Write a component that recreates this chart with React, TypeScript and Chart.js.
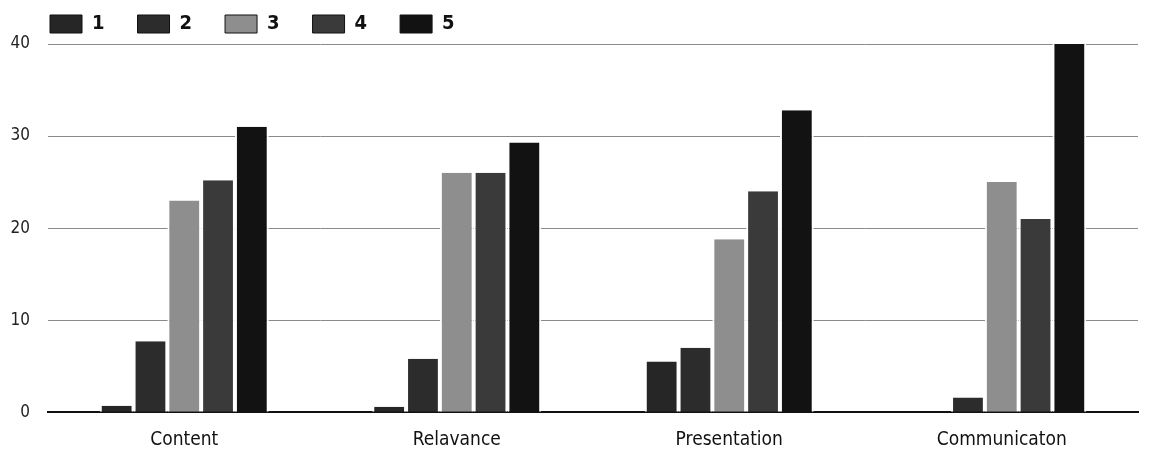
import React, { useEffect, useRef } from "react";
import { Chart, registerables } from "chart.js";

Chart.register(...registerables);

const categories = ["Content", "Relavance", "Presentation", "Communicaton"];
const seriesNames = ["1", "2", "3", "4", "5"];
const series1 = [0.7, 0.6, 5.5, 0];
const series2 = [7.7, 5.8, 7, 1.6];
const series3 = [23, 26, 18.8, 25];
const series4 = [25.2, 26, 24, 21];
const series5 = [31, 29.3, 32.8, 40];
const yTicks = [0, 10, 20, 30, 40];

const colors = ["#262626", "#2c2c2c", "#8e8e8e", "#3a3a3a", "#121212"];
const FONT = "'Liberation Sans Narrow', 'DejaVu Sans Condensed', 'Roboto', sans-serif";

const legendShift = {
  id: "legendShift",
  afterLayout(chart: any) {
    if (chart.legend) {
      chart.legend.left += 9;
      chart.legend.right += 9;
    }
  },
};

export default function App() {
  const ref = useRef<HTMLCanvasElement | null>(null);
  useEffect(() => {
    if (!ref.current) return;
    const all = [series1, series2, series3, series4, series5];
    const chart = new Chart(ref.current, {
      type: "bar",
      data: {
        labels: categories,
        datasets: all.map((d, i) => ({
          label: seriesNames[i],
          data: d,
          backgroundColor: colors[i],
          borderColor: "#ffffff",
          borderWidth: { left: 2, right: 2, top: 0, bottom: 0 },
          barPercentage: 1,
          categoryPercentage: 0.62,
        })),
      },
      plugins: [legendShift],
      options: {
        animation: false,
        responsive: true,
        maintainAspectRatio: false,
        layout: { padding: { left: 0, right: 6, top: -27, bottom: 4 } },
        plugins: {
          tooltip: { enabled: false },
          legend: {
            position: "top",
            align: "start",
            labels: {
              boxWidth: 32,
              boxHeight: 18,
              padding: 33,
              color: "#111",
              font: { family: FONT, size: 20, weight: "bold" },
              generateLabels: (c: any) =>
                c.data.datasets.map((ds: any, i: number) => ({
                  text: ds.label,
                  fillStyle: colors[i],
                  strokeStyle: "#111",
                  lineWidth: 1,
                  hidden: false,
                  datasetIndex: i,
                  fontColor: "#111",
                })),
            },
          },
        },
        scales: {
          x: {
            grid: { display: false },
            border: { display: true, color: "#111", width: 2 },
            ticks: {
              color: "#111",
              padding: 8,
              font: { family: FONT, size: 19 },
            },
          },
          y: {
            min: 0,
            max: 40,
            afterBuildTicks: (s: any) => {
              s.ticks = yTicks.map((v) => ({ value: v }));
            },
            afterFit: (s: any) => {
              s.width = 40;
            },
            grid: { color: "#8a8a8a", lineWidth: 1, drawTicks: false },
            border: { display: false },
            ticks: {
              color: "#222",
              padding: 18,
              font: { family: FONT, size: 17 },
            },
          },
        },
      },
    });
    return () => chart.destroy();
  }, []);
  return (
    <div style={{ width: 1136, height: 455, position: "relative", background: "#fff" }}>
      <canvas ref={ref} />
    </div>
  );
}
